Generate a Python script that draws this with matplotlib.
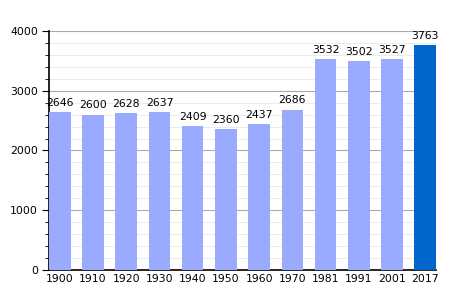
import matplotlib.pyplot as plt
import numpy as np
from matplotlib.ticker import MultipleLocator

# Population par année
years = ['1900', '1910', '1920', '1930', '1940', '1950', '1960', '1970', '1981', '1991', '2001', '2017']
population = [2646, 2600, 2628, 2637, 2409, 2360, 2437, 2686, 3532, 3502, 3527, 3763]
colors = ['#99aaff'] * 11 + ['#0066cc']

fig = plt.figure(figsize=(4.64, 3.0), dpi=100)
ax = fig.add_axes([0.1056, 0.1, 0.834, 0.7967])

x = np.arange(len(years))
bars = ax.bar(x, population, width=0.65, color=colors, zorder=3)
for xi, v in zip(x, population):
    ax.text(xi, v + 70, str(v), ha='center', va='bottom', fontsize=7.8, zorder=4)

ax.set_xlim(-0.325, len(years) - 0.675)
ax.set_ylim(0, 4000)
ax.set_xticks(x)
ax.set_xticklabels(years, fontsize=7.8)
ax.tick_params(axis='x', length=0, pad=3)
ax.yaxis.set_major_locator(MultipleLocator(1000))
ax.yaxis.set_minor_locator(MultipleLocator(200))
ax.tick_params(axis='y', which='major', length=5, labelsize=7.8, pad=3)
ax.tick_params(axis='y', which='minor', length=3)
ax.grid(axis='y', which='major', color='#aaaaaa', linewidth=0.8, zorder=0)
ax.grid(axis='y', which='minor', color='#e8e8e8', linewidth=0.6, zorder=0)
for s in ['top', 'right']:
    ax.spines[s].set_visible(False)
ax.spines['left'].set_linewidth(1.2)
ax.spines['bottom'].set_linewidth(1.2)

fig.savefig('out.png', dpi=100)
